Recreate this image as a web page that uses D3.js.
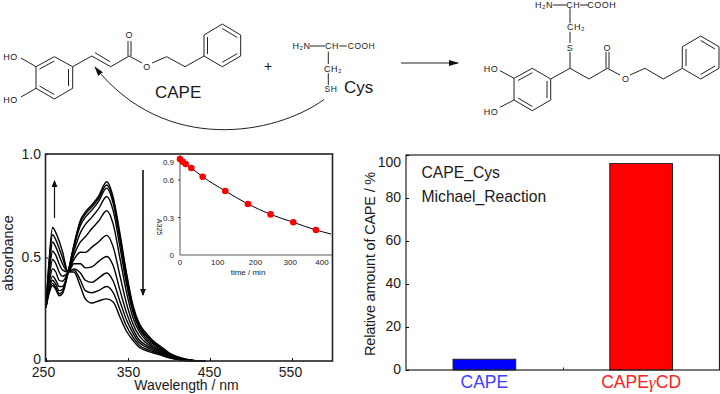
<!DOCTYPE html>
<html>
<head>
<meta charset="utf-8">
<script src="https://cdn.jsdelivr.net/npm/d3@7"></script>
<style>
  html, body { margin: 0; padding: 0; background: #fff; }
  text { font-family: "Liberation Sans", Arial, sans-serif; fill: #1a1a1a; }
</style>
</head>
<body>
<div id="container"></div>
<script>
let w = 720;
let h = 394;

// spectra, one list per time point, A vs wavelength
let wavelengths = [250,254,258,262,266,270,277,284,292,298,306,314,324,332,340,348,356,364,372,380,390,400,415,430,445];
let spec0 = [.26,.33,.365,.345,.315,.325,.43,.56,.68,.72,.755,.795,.866,.79,.62,.43,.27,.18,.135,.10,.07,.04,.015,.003,0];
let spec5 = [.26,.34,.375,.355,.325,.335,.43,.555,.67,.71,.745,.785,.85,.775,.605,.415,.26,.17,.125,.095,.066,.036,.013,.003,0];
let spec15 = [.26,.35,.39,.37,.34,.345,.43,.55,.655,.695,.73,.77,.835,.76,.59,.40,.25,.165,.12,.09,.06,.033,.012,.002,0];
let spec30 = [.26,.36,.41,.39,.36,.36,.43,.53,.62,.66,.695,.735,.795,.725,.555,.375,.235,.155,.11,.083,.056,.03,.01,.002,0];
let spec60 = [.26,.38,.445,.43,.39,.385,.43,.51,.575,.60,.64,.675,.726,.66,.50,.335,.21,.14,.10,.075,.05,.027,.009,.002,0];
let spec120 = [.26,.40,.49,.47,.43,.41,.43,.49,.525,.525,.55,.575,.607,.55,.415,.28,.18,.12,.088,.067,.045,.024,.008,.001,0];
let spec180 = [.26,.43,.53,.51,.47,.44,.43,.47,.47,.45,.455,.48,.505,.46,.345,.235,.155,.10,.077,.06,.04,.022,.007,.001,0];
let spec240 = [.26,.45,.575,.55,.51,.47,.43,.445,.425,.39,.38,.40,.425,.385,.29,.20,.135,.088,.068,.053,.036,.02,.006,.001,0];
let spec300 = [.26,.48,.61,.585,.545,.50,.43,.44,.39,.34,.33,.34,.36,.33,.25,.17,.115,.075,.058,.046,.032,.018,.005,0,0];
let spec360 = [.26,.50,.645,.62,.58,.53,.43,.43,.36,.30,.28,.29,.30,.285,.214,.145,.10,.065,.05,.04,.028,.015,.004,0,0];
let spectra = [spec0, spec5, spec15, spec30, spec60, spec120, spec180, spec240, spec300, spec360];

// inset: A325 vs time
let times = [0,7,15,30,60,120,180,240,300,360];
let a325 = [.944,.90,.862,.797,.654,.512,.408,.325,.262,.20];
let fitTimes = [0,15,30,60,120,180,240,300,360,400];
let fitValues = [.944,.862,.797,.654,.512,.408,.325,.262,.20,.168];

// bars
let barNames = ["CAPE", "CAPEγCD"];
let barValues = [5, 96];
let barColors = ["#0000ff", "#ff0000"];
let barTextColors = ["#4040ff", "#ff2020"];

// structures, drawn in page pixels
let capeBonds = [[54.3,56.7,72.7,66.7],[72.7,66.7,72.7,88.3],[72.7,88.3,54.3,99],[54.3,99,36,88.3],[36,88.3,36,66.7],[36,66.7,54.3,56.7],
  [54.3,61,39.5,69],[68.5,69,68.5,86],[54.3,94.5,39.5,86],
  [36,66.7,21,58],[36,88.3,21,97],
  [72.7,66.7,91.7,56],[91.7,56,110.7,66.7],[95,52.7,110,61.7],[110.7,66.7,129.3,56],[129.3,56,142,63],[152,63,166.7,56.7],[166.7,56.7,185,66.7],[185,66.7,204,56],
  [128,56,128,41],[131,56,131,41],
  [204,56,204,35],[204,35,222.3,24],[222.3,24,240.7,35],[240.7,35,240.7,56],[240.7,56,222.3,66.7],[222.3,66.7,204,56],
  [207.5,54,207.5,37],[222.3,28.5,237.3,37.5],[237.3,53.5,222.3,62.3]];
let adductBonds = [[514,78.3,532.3,68.3],[532.3,68.3,550.7,79],[550.7,79,550.7,100],[550.7,100,532.3,110.7],[532.3,110.7,514,100],[514,100,514,78.3],
  [518,80.5,532.3,72.7],[547,81,547,98],[532.3,106.5,518,98],
  [514,78.3,500,70.7],[514,100,500,107.3],
  [550.7,79,570,68.3],[570,68.3,589,79],[589,79,607.3,68.3],[607.3,68.3,620,75],[630,75,645,68.3],[645,68.3,663.3,79],[663.3,79,682.3,68.3],
  [606,68.3,606,52],[609,68.3,609,52],
  [570,68.3,570,52],[570,43,570,31.7],[570,23.3,570,8.3],[552.7,5,566.7,5],[580,5,588.3,5],
  [682.3,68.3,682.3,46.7],[682.3,46.7,700.7,36],[700.7,36,719,46.7],[719,46.7,719,68.3],[719,68.3,700.7,79],[700.7,79,682.3,68.3],
  [686,66,686,49],[700.7,40.5,715,49],[715,66,700.7,74.5]];
let cysBonds = [[310,46,325,46],[339.3,46,346.7,46],[328.3,51.7,328.3,64],[328.3,73.3,328.3,85]];
let molLabels = [
  ["HO",10.5,57,9], ["HO",10.5,100,9], ["O",129.3,35,9], ["O",147,67,9],
  ["H₂N",301.5,46,9], ["CH",332,46,9], ["COOH",361.5,46,8.5], ["CH₂",333,68.5,9], ["SH",331,89,8.5],
  ["HO",491,68.5,9], ["HO",491,111.5,9], ["O",607.3,47.5,9], ["O",625.7,79,9], ["S",570,47.7,9],
  ["CH₂",576,27.3,9], ["H₂N",544,5,9], ["CH",573.3,5,9], ["COOH",601.7,5,9]
];

let viz = d3.select("#container")
  .append("svg")
  .attr("width", w)
  .attr("height", h)
  .style("display", "block");

let defs = viz.append("defs");
defs.append("marker")
  .attr("id", "head")
  .attr("viewBox", "0 0 10 6")
  .attr("refX", 9).attr("refY", 3)
  .attr("markerWidth", 10).attr("markerHeight", 6)
  .attr("markerUnits", "userSpaceOnUse")
  .attr("orient", "auto")
  .append("path")
  .attr("d", "M0,0L10,3L0,6Z")
  .attr("fill", "#111");
defs.append("marker")
  .attr("id", "smallhead")
  .attr("viewBox", "0 0 7 6")
  .attr("refX", 6).attr("refY", 3)
  .attr("markerWidth", 7).attr("markerHeight", 6)
  .attr("markerUnits", "userSpaceOnUse")
  .attr("orient", "auto")
  .append("path")
  .attr("d", "M0,0L7,3L0,6Z")
  .attr("fill", "#111");

// ---------- structures ----------
let scheme = viz.append("g");
scheme.selectAll(".bond")
  .data(capeBonds.concat(adductBonds, cysBonds))
  .enter().append("line")
  .attr("class", "bond")
  .attr("x1", d => d[0]).attr("y1", d => d[1])
  .attr("x2", d => d[2]).attr("y2", d => d[3])
  .attr("stroke", "#222").attr("stroke-width", 1);

scheme.selectAll(".atom")
  .data(molLabels)
  .enter().append("text")
  .attr("class", "atom")
  .text(d => d[0])
  .attr("x", d => d[1]).attr("y", d => d[2])
  .attr("font-size", d => d[3])
  .attr("text-anchor", "middle")
  .attr("dominant-baseline", "central")
  .attr("letter-spacing", 0.5);

scheme.append("text").text("CAPE").attr("x", 155).attr("y", 98).attr("font-size", 17);
scheme.append("text").text("Cys").attr("x", 344).attr("y", 93).attr("font-size", 17);
scheme.append("text").text("+").attr("x", 268).attr("y", 71).attr("font-size", 14).attr("text-anchor", "middle");

scheme.append("line")
  .attr("x1", 401).attr("y1", 63).attr("x2", 458).attr("y2", 63)
  .attr("stroke", "#222").attr("stroke-width", 1.2)
  .attr("marker-end", "url(#head)");
scheme.append("path")
  .attr("d", "M324,99.5C275,135 165,155 95,67")
  .attr("fill", "none")
  .attr("stroke", "#222").attr("stroke-width", 1)
  .attr("marker-end", "url(#head)");

// ---------- spectra ----------
let xScale = d3.scaleLinear().domain([250, 600]).range([46, 333]);
let yScale = d3.scaleLinear().domain([0, 1]).range([361, 154]);

let specLine = d3.line()
  .x((d, i) => xScale(wavelengths[i]))
  .y(d => yScale(d))
  .curve(d3.curveMonotoneX);

viz.append("g").selectAll("path")
  .data(spectra)
  .enter().append("path")
  .attr("d", specLine)
  .attr("fill", "none")
  .attr("stroke", "#000")
  .attr("stroke-width", 1.4);

let xLabelNudge = { 250: -3, 350: 0, 450: -1, 550: -2 };
let xAxis = viz.append("g")
  .attr("transform", "translate(0,361)")
  .call(d3.axisBottom(xScale).tickValues([250, 350, 450, 550]).tickSizeInner(-3).tickSizeOuter(0).tickPadding(6));
xAxis.selectAll("text")
  .attr("font-size", 14).attr("font-family", null)
  .attr("dx", d => xLabelNudge[d])
  .attr("dy", "0.68em");
xAxis.select(".domain").remove();

let yAxis = viz.append("g")
  .attr("transform", "translate(45,0)")
  .call(d3.axisLeft(yScale).tickValues([0, 0.5, 1]).tickFormat(d3.format(".1f")).tickSizeInner(-3).tickSizeOuter(0).tickPadding(4));
yAxis.selectAll("text")
  .attr("font-size", 14).attr("font-family", null)
  .attr("dy", d => d === 0 ? "0.2em" : "0.32em")
  .text(d => d === 0 ? "0" : d3.format(".1f")(d));
yAxis.select(".domain").remove();

viz.append("rect")
  .attr("x", 45.5).attr("y", 154)
  .attr("width", 287).attr("height", 207)
  .attr("fill", "none").attr("stroke", "#222").attr("stroke-width", 1.6);

viz.append("text").text("Wavelength / nm")
  .attr("x", 186.5).attr("y", 390).attr("font-size", 14).attr("text-anchor", "middle");
viz.append("text").text("absorbance")
  .attr("transform", "translate(13,253) rotate(-90)")
  .attr("font-size", 14.5).attr("text-anchor", "middle");

viz.append("line").attr("x1", 54.5).attr("y1", 218).attr("x2", 54.5).attr("y2", 181)
  .attr("stroke", "#111").attr("stroke-width", 1.2).attr("marker-end", "url(#smallhead)");
viz.append("line").attr("x1", 143).attr("y1", 170).attr("x2", 143).attr("y2", 295)
  .attr("stroke", "#111").attr("stroke-width", 1.6).attr("marker-end", "url(#smallhead)");

// ---------- inset ----------
let inX = d3.scaleLinear().domain([0, 400]).range([180, 331]);
let inY = d3.scaleLinear().domain([0, 0.3, 0.6, 0.9]).range([255, 217.5, 180, 161.7]);

let inset = viz.append("g");
inset.append("line").attr("x1", 180).attr("y1", 154).attr("x2", 180).attr("y2", 255)
  .attr("stroke", "#555").attr("stroke-width", 1);
inset.append("line").attr("x1", 180).attr("y1", 255).attr("x2", 332).attr("y2", 255)
  .attr("stroke", "#555").attr("stroke-width", 1);

let inTickNudge = { 300: -3, 400: -9 };
inset.selectAll(".xlab")
  .data([0, 100, 200, 300, 400])
  .enter().append("text")
  .attr("class", "xlab")
  .text(d => d)
  .attr("x", d => inX(d) + (inTickNudge[d] || 0))
  .attr("y", 265).attr("font-size", 8).attr("text-anchor", "middle");
inset.selectAll(".ylab")
  .data([0, 0.3, 0.6, 0.9])
  .enter().append("text")
  .attr("class", "ylab")
  .text(d => d)
  .attr("x", 174).attr("y", d => inY(d) + 0.5)
  .attr("font-size", 8).attr("text-anchor", "end").attr("dominant-baseline", "central");
inset.selectAll(".ytick")
  .data([0.3, 0.6])
  .enter().append("line")
  .attr("class", "ytick")
  .attr("x1", 178).attr("x2", 180)
  .attr("y1", d => inY(d)).attr("y2", d => inY(d))
  .attr("stroke", "#333");

inset.append("text").text("time / min")
  .attr("x", 248).attr("y", 275).attr("font-size", 8).attr("text-anchor", "middle");
inset.append("text").text("A325")
  .attr("transform", "translate(157,227) rotate(90)")
  .attr("font-size", 7).attr("text-anchor", "middle");

let fitLine = d3.line()
  .x((d, i) => inX(fitTimes[i]))
  .y(d => inY(d))
  .curve(d3.curveMonotoneX);
inset.append("path").attr("d", fitLine(fitValues))
  .attr("fill", "none").attr("stroke", "#000").attr("stroke-width", 1);

inset.selectAll("circle")
  .data(a325)
  .enter().append("circle")
  .attr("cx", (d, i) => inX(times[i]))
  .attr("cy", d => inY(d))
  .attr("r", 3.3)
  .attr("fill", "#ff0000");

// ---------- bars ----------
let barX = d3.scaleBand().domain(barNames).range([406, 719.5]).paddingInner(0.6).paddingOuter(0.3);
let barY = d3.scaleLinear().domain([0, 100]).range([370, 155]);

viz.selectAll(".bar")
  .data(barValues)
  .enter().append("rect")
  .attr("class", "bar")
  .attr("x", (d, i) => barX(barNames[i]))
  .attr("y", d => barY(d))
  .attr("width", barX.bandwidth())
  .attr("height", d => barY(0) - barY(d))
  .attr("fill", (d, i) => barColors[i])
  .attr("stroke", "#222").attr("stroke-width", 1);

viz.append("rect")
  .attr("x", 406).attr("y", 155)
  .attr("width", 313.5).attr("height", 215)
  .attr("fill", "none").attr("stroke", "#222").attr("stroke-width", 1.2);

let barAxis = viz.append("g")
  .attr("transform", "translate(406,0)")
  .call(d3.axisLeft(barY).tickValues([0, 20, 40, 60, 80, 100]).tickSizeInner(-3).tickSizeOuter(0).tickPadding(5));
barAxis.select(".domain").remove();
barAxis.selectAll("text")
  .attr("font-size", 14).attr("font-family", null)
  .attr("dy", d => d === 100 ? 11 : 3);

viz.append("line").attr("x1", 563.5).attr("x2", 563.5).attr("y1", 367.5).attr("y2", 370).attr("stroke", "#222");

let barLabels = viz.selectAll(".barlab")
  .data(barNames)
  .enter().append("text")
  .attr("class", "barlab")
  .attr("x", d => barX(d) + barX.bandwidth() / 2)
  .attr("y", 388)
  .attr("font-size", 17.5)
  .attr("text-anchor", "middle")
  .style("fill", (d, i) => barTextColors[i]);
barLabels.each(function (d, i) {
  d3.select(this).selectAll("tspan")
    .data(d.split(/(γ)/))
    .enter().append("tspan")
    .text(s => s)
    .style("fill", barTextColors[i])
    .style("font-family", s => s === "γ" ? '"Liberation Serif", serif' : null)
    .style("font-style", s => s === "γ" ? "italic" : null);
});

viz.append("text").text("Relative amount of CAPE / %")
  .attr("transform", "translate(375,264) rotate(-90)")
  .attr("font-size", 14.5).attr("letter-spacing", -0.2).attr("text-anchor", "middle");
viz.append("text").text("CAPE_Cys").attr("x", 421.5).attr("y", 178).attr("font-size", 15.7);
viz.append("text").text("Michael_Reaction").attr("x", 421.5).attr("y", 202).attr("font-size", 15.7);
</script>
</body>
</html>
